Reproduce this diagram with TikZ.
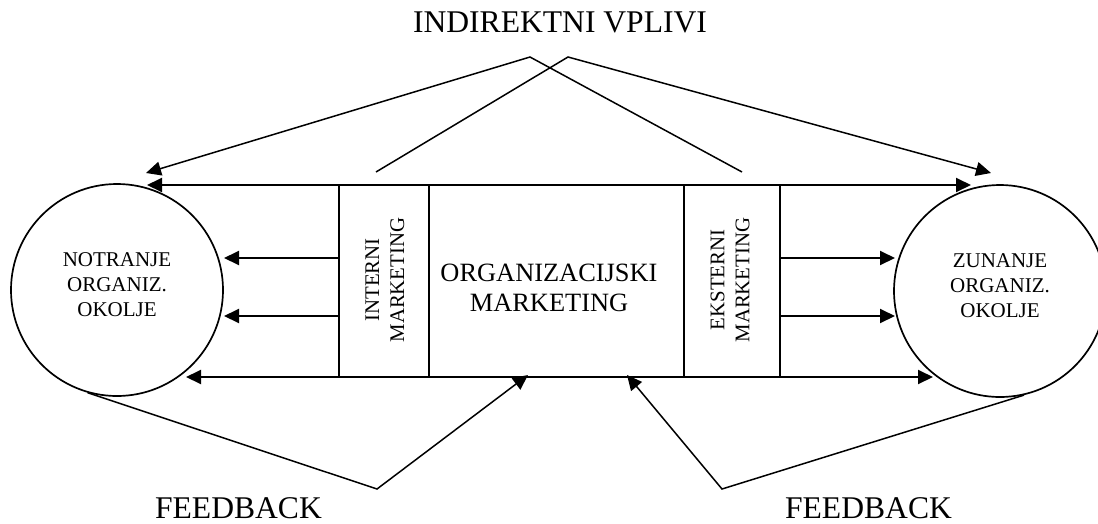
\documentclass[tikz,border=0pt]{standalone}
\usepackage{fontspec}
\setmainfont{Liberation Serif}
\usetikzlibrary{arrows.meta}
\begin{document}
\begin{tikzpicture}[x=1pt,y=-1pt,
  circ/.style={circle,draw,line width=1.7pt,minimum size=212pt,inner sep=0pt},
  boxpart/.style={draw,line width=1.9pt,anchor=north west,minimum height=192pt,inner sep=0pt},
  arr/.style={line width=1.9pt,-{Triangle[length=15pt,width=14pt]}},
  arrthin/.style={line width=1.5pt,line join=miter,-{Triangle[length=15pt,width=14pt]}},
  bigtxt/.style={font=\fontsize{31.6}{38}\selectfont,inner sep=0pt},
  circtxt/.style={font=\fontsize{21}{25}\selectfont,align=center,inner sep=0pt},
  rottxt/.style={font=\fontsize{20.8}{25}\selectfont,align=center,inner sep=0pt,rotate=90},
  midtxt/.style={font=\fontsize{26.4}{30}\selectfont,align=center,inner sep=0pt}]
\useasboundingbox (0,0) rectangle (1098,523);

% circles
\node[circ] (inner) at (117,290) {};
\node[circ] (outer) at (1000,291) {};
\node[circtxt] (innertxt) at (117,285) {NOTRANJE\\ORGANIZ.\\OKOLJE};
\node[circtxt] (outertxt) at (1000,286) {ZUNANJE\\ORGANIZ.\\OKOLJE};

% central box
\node[boxpart,minimum width=90pt] (intm) at (338,184) {};
\node[boxpart,minimum width=255pt] (orgm) at (428,184) {};
\node[boxpart,minimum width=96pt] (extm) at (683,184) {};
\node[rottxt] (intmtxt) at (385,280) {INTERNI\\MARKETING};
\node[rottxt] (extmtxt) at (730,280) {EKSTERNI\\MARKETING};
\node[midtxt] (orgmtxt) at (549,288) {ORGANIZACIJSKI\\MARKETING};

% left arrows
\coordinate (lt1) at (147,185);
\coordinate (lt2) at (224,258);
\coordinate (lt3) at (224,316);
\coordinate (lt4) at (186,377);
\draw[arr] (intm.west |- lt1) -- (lt1);
\draw[arr] (intm.west |- lt2) -- (lt2);
\draw[arr] (intm.west |- lt3) -- (lt3);
\draw[arr] (intm.west |- lt4) -- (lt4);

% right arrows
\coordinate (rt1) at (971,185);
\coordinate (rt2) at (895,258);
\coordinate (rt3) at (895,316);
\coordinate (rt4) at (933,377);
\draw[arr] (extm.east |- rt1) -- (rt1);
\draw[arr] (extm.east |- rt2) -- (rt2);
\draw[arr] (extm.east |- rt3) -- (rt3);
\draw[arr] (extm.east |- rt4) -- (rt4);

% indirect influences
\node[bigtxt,anchor=base] (indir) at (560,32) {INDIREKTNI VPLIVI};
\coordinate (ap1) at (530,57);
\coordinate (ap2) at (568,57);
\coordinate (e1) at (742,172);
\coordinate (e2) at (376,172);
\coordinate (tl) at (146,173);
\coordinate (tr) at (991,173);
\draw[arrthin] (e1) -- (ap1) -- (tl);
\draw[arrthin] (e2) -- (ap2) -- (tr);

% feedback
\coordinate (fb1v) at (377,489);
\coordinate (fb1t) at (528,375);
\coordinate (fb2v) at (722,489);
\coordinate (fb2t) at (627,375);
\draw[arrthin] (inner.254) -- (fb1v) -- (fb1t);
\draw[arrthin] (outer.283) -- (fb2v) -- (fb2t);
\node[bigtxt,anchor=base] (fb1) at (238.5,518) {FEEDBACK};
\node[bigtxt,anchor=base] (fb2) at (868.5,518) {FEEDBACK};
\end{tikzpicture}
\end{document}
